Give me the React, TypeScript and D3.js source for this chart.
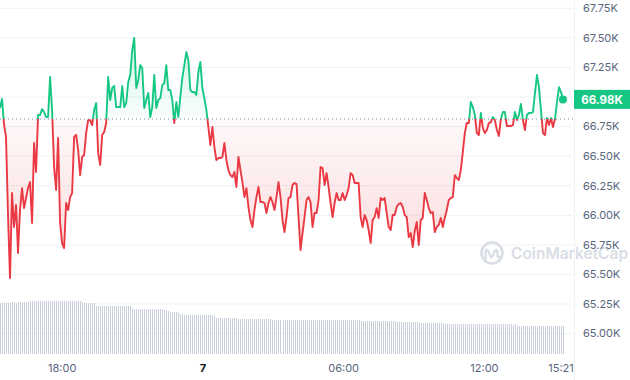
import React from 'react';
import * as d3 from 'd3';

const startTime = new Date(2024, 5, 6, 15, 21);
const endTime = new Date(2024, 5, 7, 15, 21);
const refPrice = 66814;
const lastPriceLabel = '66.98K';

const prices = [
  66907, 66983, 66771, 66662, 66002, 65470, 66188, 65901, 66087, 65681,
  66044, 66230, 66061, 66146, 66230, 66281, 65935, 66611, 66366, 66848,
  66848, 66898, 66873, 66831, 66831, 67169, 66890, 66408, 66214, 66653,
  65935, 65765, 65723, 66104, 66044, 66154, 66188, 66662, 66679, 66552,
  66340, 66493, 66510, 66695, 66805, 66805, 66763, 66890, 66949, 66526,
  66425, 66679, 66704, 66780, 67169, 66975, 67076, 67093, 66915, 66915,
  66915, 67093, 66915, 66949, 67127, 67186, 67397, 67499, 67076, 67144,
  67270, 67245, 66907, 66975, 67034, 66831, 66915, 67186, 66907, 66975,
  66991, 67101, 67118, 67270, 67059, 67059, 66975, 66780, 66958, 66831,
  67000, 67161, 67270, 67380, 67313, 67059, 67042, 67042, 67017, 67211,
  67296, 67076, 66991, 66890, 66746, 66594, 66746, 66577, 66467, 66484,
  66484, 66493, 66611, 66467, 66383, 66340, 66323, 66366, 66239, 66493,
  66383, 66281, 66154, 66230, 66070, 65960, 65901, 66044, 66154, 66239,
  66112, 66112, 66104, 66019, 66104, 66154, 66112, 66044, 66154, 66281,
  66154, 65960, 65858, 65985, 66146, 66154, 66256, 66273, 66264, 65985,
  65706, 65850, 65985, 66129, 66154, 66112, 65901, 66019, 66019, 66129,
  66408, 66400, 66256, 66357, 66239, 66104, 65985, 66104, 66188, 66129,
  66129, 66188, 66129, 66171, 66230, 66357, 66340, 66273, 66273, 66273,
  65985, 65901, 66002, 65960, 65875, 65765, 65960, 65985, 66061, 65977,
  66146, 66129, 66146, 66019, 65901, 65875, 66002, 66002, 66070, 66095,
  66104, 66070, 66002, 65985, 65816, 65850, 65732, 65867, 65943, 65748,
  65960, 65977, 66188, 66129, 66061, 66019, 66028, 65858, 65901, 65918,
  65977, 65901, 65977, 66044, 66129, 66146, 66154, 66340, 66315, 66298,
  66383, 66535, 66695, 66780, 66780, 66958, 66915, 66848, 66695, 66679,
  66865, 66738, 66695, 66721, 66780, 66788, 66831, 66805, 66721, 66670,
  66814, 66873, 66873, 66755, 66755, 66755, 66763, 66873, 66805, 66848,
  66941, 66805, 66721, 66848, 66865, 66865, 66873, 67034, 67186, 67084,
  66890, 66695, 66679, 66822, 66763, 66822, 66746, 66814, 66958, 67084,
  67042, 66980,
];

// 24h volume (billions USD)
const volumes = [
  32.0, 32.1, 32.1, 32.2, 32.1, 32.1, 32.2, 32.2, 32.1, 32.3,
  32.6, 32.7, 32.7, 32.8, 32.7,
  33.2, 33.3, 33.4, 33.3, 33.4, 33.4, 33.3, 33.3, 33.4, 33.3, 33.3, 33.2, 33.3, 33.3, 33.2, 33.3, 33.2, 33.2, 33.1, 33.1, 33.2, 33.1, 33.1, 33.0, 32.9, 32.9, 32.8,
  31.8, 31.7, 31.7, 31.6, 31.7, 31.6,
  30.3, 30.3, 30.2, 30.2, 30.2, 30.1, 30.2, 30.2, 30.1, 30.1, 30.2, 30.1, 30.1, 30.0, 30.1, 30.0, 30.0, 29.9,
  28.3, 28.2, 28.2, 28.1, 28.2, 28.1, 28.1, 28.1, 28.0, 28.1, 28.0, 28.0, 28.0, 27.9, 28.0, 27.9, 27.8, 27.6,
  26.6, 26.5, 26.4, 26.4, 26.3, 26.2,
  25.0, 24.7, 24.5, 24.4, 24.4, 24.4, 24.3, 24.4, 24.3, 24.3, 24.4, 24.3, 24.2, 24.3, 24.2, 24.2, 24.1, 24.0,
  22.8, 22.7, 22.7, 22.7, 22.6, 22.7, 22.6, 22.6, 22.5, 22.5,
  22.0, 21.9, 21.9, 21.9, 21.9, 21.8, 21.9, 21.9, 21.8, 21.9, 21.8, 21.8, 21.9, 21.8, 21.8, 21.8, 21.7, 21.7,
  21.3, 21.3, 21.2, 21.3, 21.3, 21.2, 21.3, 21.2, 21.3, 21.3,
  21.2, 21.2, 21.3, 21.2, 21.2, 21.3, 21.2, 21.2, 21.2, 21.3,
  21.2, 21.2, 21.2, 21.2, 21.1, 21.2, 21.2, 21.2, 21.1, 21.2,
  21.2, 21.1, 21.2, 21.1, 21.1, 21.2, 21.1, 21.1, 21.1, 21.1,
  21.0, 21.1, 21.1, 21.0,
  20.7, 20.6, 20.6, 20.7, 20.6, 20.6, 20.6, 20.5, 20.6, 20.6, 20.5, 20.6, 20.5, 20.5, 20.6, 20.5, 20.5, 20.4,
  20.1, 20.0, 20.0, 20.0, 20.1, 20.0, 19.9, 20.0, 19.9, 19.9,
  19.7, 19.6, 19.6, 19.6, 19.6, 19.5, 19.6, 19.6, 19.5, 19.5, 19.6, 19.5, 19.5, 19.4,
  19.0, 18.9, 18.9, 18.9, 18.9, 18.9, 18.8, 18.9, 18.9, 18.8, 18.9, 18.8, 18.8, 18.9, 18.8, 18.8, 18.8, 18.8, 18.7, 18.8,
  18.6, 18.6, 18.6, 18.5, 18.6, 18.6, 18.5, 18.6, 18.5, 18.5, 18.6, 18.5, 18.5, 18.5, 18.4, 18.5,
  17.8, 17.7, 17.7, 17.7, 17.8, 17.7, 17.7, 17.7, 17.6, 17.7, 17.7, 17.6, 17.7, 17.7, 17.6, 17.6, 17.7, 17.6, 17.6, 17.6, 17.6, 17.5, 17.6, 17.6,
];

const yTicks = [65000, 65250, 65500, 65750, 66000, 66250, 66500, 66750, 67000, 67250, 67500, 67750];
const xTickTimes = [
  new Date(2024, 5, 6, 18, 0),
  new Date(2024, 5, 7, 0, 0),
  new Date(2024, 5, 7, 6, 0),
  new Date(2024, 5, 7, 12, 0),
  new Date(2024, 5, 7, 15, 21),
];
const xTickLabels = ['18:00', '7', '06:00', '12:00', '15:21'];
const xTickBold = [false, true, false, false, false];

const GREEN = '#16c784';
const RED = '#ea3943';
const FONT = 'Inter, "Noto Sans", sans-serif';

export default function App() {
  const W = 630;
  const H = 380;
  const plotRight = 573;

  const x = d3.scaleTime().domain([startTime, endTime]).range([0, 563]);
  const y = d3.scaleLinear().domain([65000, 67750]).range([333.6, 8.3]);
  const vY = d3.scaleLinear().domain([0, 40]).range([354, 290]);

  const step = (+endTime - +startTime) / (prices.length - 1);
  const data = prices.map((p, i) => ({ t: new Date(+startTime + i * step), p }));
  const yb = y(refPrice);

  const line = d3.line<{ t: Date; p: number }>().x((d) => x(d.t)).y((d) => y(d.p));
  const area = d3
    .area<{ t: Date; p: number }>()
    .x((d) => x(d.t))
    .y0(yb)
    .y1((d) => y(d.p));

  const last = data[data.length - 1];
  const lastY = y(last.p);
  const maxP = d3.max(prices) as number;
  const minP = d3.min(prices) as number;

  // labels hidden behind the price badge are not drawn (as in the reference)
  const visibleYTicks = yTicks.filter((t) => Math.abs(y(t) - lastY) > 11);

  return (
    <svg
      width={W}
      height={H}
      style={{ position: 'absolute', left: 0, top: 0, background: '#fff' }}
      fontFamily={FONT}
    >
      <defs>
        <clipPath id="above">
          <rect x={0} y={0} width={W} height={yb} />
        </clipPath>
        <clipPath id="below">
          <rect x={0} y={yb} width={W} height={H - yb} />
        </clipPath>
        <linearGradient id="gGrad" gradientUnits="userSpaceOnUse" x1={0} y1={y(maxP)} x2={0} y2={yb}>
          <stop offset="0" stopColor={GREEN} stopOpacity={0.2} />
          <stop offset="1" stopColor={GREEN} stopOpacity={0.02} />
        </linearGradient>
        <linearGradient id="rGrad" gradientUnits="userSpaceOnUse" x1={0} y1={yb} x2={0} y2={y(minP)}>
          <stop offset="0" stopColor={RED} stopOpacity={0.03} />
          <stop offset="1" stopColor={RED} stopOpacity={0.2} />
        </linearGradient>
      </defs>

      {/* grid */}
      {yTicks.map((t) => (
        <line key={t} x1={0} x2={plotRight} y1={y(t)} y2={y(t)} stroke="#eff2f5" strokeWidth={1} />
      ))}
      <line x1={574.5} x2={574.5} y1={0} y2={H} stroke="#eff2f5" strokeWidth={1} />

      {/* volume */}
      {volumes.map((v, i) => {
        const xv = Math.round(x(new Date(+startTime + i * step)));
        return (
          <rect
            key={i}
            x={xv}
            y={vY(v)}
            width={1}
            height={354 - vY(v)}
            fill="#c9d0dc"
            shapeRendering="crispEdges"
          />
        );
      })}

      {/* watermark */}
      <g opacity={0.9}>
        <circle cx={492} cy={253} r={10.5} fill="none" stroke="#d5dae3" strokeWidth={2.6} />
        <path
          d="M485.5,259 L485.5,251.5 Q486.5,248.5 488.5,251.5 L490.5,256 Q491.5,258 492.5,256 L494.5,251.5 Q496,248.5 497.5,251.5 L497.5,256 Q498.5,258 500,256.5"
          fill="none"
          stroke="#d5dae3"
          strokeWidth={2.3}
          strokeLinecap="round"
          strokeLinejoin="round"
        />
        <text x={511} y={259} fontSize={15.5} fontWeight={600} fill="#d5dae3">
          CoinMarketCap
        </text>
      </g>

      {/* areas */}
      <path d={area(data) || ''} fill="url(#gGrad)" clipPath="url(#above)" />
      <path d={area(data) || ''} fill="url(#rGrad)" clipPath="url(#below)" />

      {/* baseline */}
      <line
        x1={0}
        x2={plotRight}
        y1={yb}
        y2={yb}
        stroke="#808a9d"
        strokeWidth={1}
        strokeDasharray="1 3"
      />

      {/* lines */}
      <path d={line(data) || ''} fill="none" stroke={GREEN} strokeWidth={1.9} strokeLinejoin="round" clipPath="url(#above)" />
      <path d={line(data) || ''} fill="none" stroke={RED} strokeWidth={1.9} strokeLinejoin="round" clipPath="url(#below)" />

      <circle cx={x(last.t)} cy={lastY} r={4} fill={GREEN} />

      {/* y labels */}
      {visibleYTicks.map((t) => (
        <text key={t} x={583} y={y(t)} dy="0.35em" fontSize={11} fill="#58667e">
          {(t / 1000).toFixed(2) + 'K'}
        </text>
      ))}

      {/* price badge */}
      <rect x={574} y={lastY - 9.5} width={56} height={19} fill={GREEN} />
      <text
        x={602}
        y={lastY}
        dy="0.36em"
        textAnchor="middle"
        fontSize={11.5}
        fontWeight={700}
        fill="#fff"
      >
        {lastPriceLabel}
      </text>

      {/* x labels */}
      {xTickTimes.map((t, i) => (
        <text
          key={i}
          x={i === xTickTimes.length - 1 ? x(t) - 2 : x(t)}
          y={368}
          dy="0.35em"
          textAnchor="middle"
          fontSize={11}
          fontWeight={xTickBold[i] ? 700 : 400}
          fill={xTickBold[i] ? '#0d1421' : '#58667e'}
        >
          {xTickLabels[i]}
        </text>
      ))}
    </svg>
  );
}
